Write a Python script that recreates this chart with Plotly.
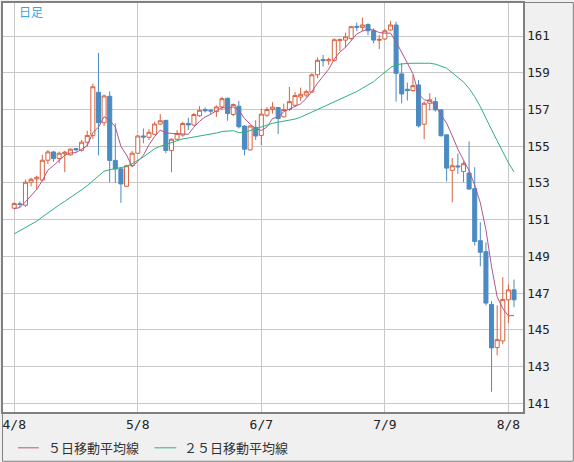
import plotly.graph_objects as go

# daily candles 4/8 .. 8/9 (one entry per trading day)
open_ = [151.63, 151.87, 151.79, 153.04, 153.22, 153.16, 154.24, 154.69, 154.33, 154.59,
         154.53, 154.87, 154.78, 155.22, 155.59, 157.94, 156.28, 157.72, 154.23, 153.77,
         152.82, 153.94, 154.62, 155.56, 155.49, 155.65, 156.21, 156.41, 154.77, 155.38,
         155.61, 156.24, 156.15, 156.66, 157.00, 156.96, 156.89, 157.14, 157.61, 156.73,
         157.18, 156.10, 154.80, 156.03, 155.59, 156.69, 157.00, 157.11, 156.60, 157.00,
         157.23, 157.68, 157.79, 157.95, 158.89, 159.72, 159.65, 159.68, 160.75, 160.78,
         160.87, 161.53, 161.47, 161.63, 161.29, 160.77, 160.84, 161.33, 161.60, 158.94,
         158.10, 158.03, 158.34, 156.20, 157.34, 157.43, 156.98, 155.62, 153.69, 153.93,
         153.63, 153.54, 152.69, 149.86, 149.26, 146.39, 144.04, 144.40, 146.64, 147.18]
high = [151.95, 151.99, 153.18, 153.29, 153.40, 154.53, 154.80, 154.75, 154.71, 154.75,
        154.89, 154.91, 155.34, 155.85, 158.41, 160.08, 157.81, 157.99, 156.24, 153.80,
        153.99, 154.75, 155.61, 155.97, 155.92, 156.33, 156.75, 156.42, 155.43, 155.88,
        156.33, 156.55, 156.82, 157.18, 157.11, 157.03, 157.23, 157.68, 157.65, 157.32,
        157.47, 156.15, 156.15, 156.42, 157.05, 157.14, 157.40, 157.14, 157.32, 158.23,
        157.96, 158.19, 158.08, 158.98, 159.84, 159.97, 159.82, 160.87, 160.87, 161.18,
        161.56, 161.74, 162.01, 161.69, 161.42, 161.05, 161.38, 161.83, 161.78, 159.52,
        158.47, 158.88, 158.61, 157.43, 157.89, 157.67, 157.02, 155.65, 154.36, 154.60,
        154.18, 155.26, 153.86, 150.86, 149.77, 146.57, 146.33, 147.87, 147.47, 147.74]
low = [151.56, 151.65, 151.70, 152.82, 152.64, 153.09, 154.04, 154.15, 154.08, 153.59,
       154.48, 154.71, 154.71, 154.98, 155.40, 154.50, 156.10, 153.04, 153.00, 151.92,
       152.78, 153.86, 154.59, 155.16, 155.34, 155.61, 156.15, 154.62, 153.58, 155.34,
       155.52, 155.88, 156.10, 156.60, 156.84, 156.75, 156.60, 156.96, 156.39, 156.64,
       155.97, 154.50, 154.77, 155.34, 155.07, 156.60, 156.78, 155.67, 156.57, 156.93,
       157.18, 157.47, 157.65, 157.90, 158.71, 159.34, 159.43, 159.61, 160.19, 160.37,
       160.78, 161.27, 161.27, 161.05, 160.60, 160.29, 160.78, 161.29, 157.43, 157.34,
       157.49, 157.98, 156.02, 155.39, 156.95, 156.89, 155.53, 153.09, 151.95, 153.50,
       153.04, 152.63, 149.59, 148.47, 146.33, 141.63, 143.62, 144.22, 145.38, 146.24]
close = [151.88, 151.83, 153.04, 153.20, 153.31, 154.24, 154.69, 154.33, 154.62, 154.68,
         154.84, 154.81, 155.22, 155.59, 158.24, 156.28, 157.74, 154.23, 153.76, 152.95,
         153.94, 154.62, 155.56, 155.50, 155.76, 156.21, 156.39, 154.77, 155.38, 155.70,
         156.24, 156.16, 156.73, 156.96, 156.93, 156.92, 157.14, 157.59, 156.78, 157.27,
         156.06, 154.84, 156.10, 155.56, 156.75, 157.00, 157.13, 156.51, 157.00, 157.43,
         157.76, 157.83, 157.97, 158.89, 159.68, 159.66, 159.73, 160.80, 160.80, 160.96,
         161.51, 161.48, 161.60, 161.29, 160.78, 160.82, 161.29, 161.60, 158.97, 157.85,
         158.03, 158.30, 156.11, 157.34, 157.53, 156.98, 155.57, 153.81, 153.94, 153.88,
         154.05, 152.67, 149.82, 149.23, 146.46, 144.02, 144.47, 146.66, 147.18, 146.64]

# moving averages as drawn on the chart
ma5 = [151.60, 151.66, 151.97, 152.30, 152.65, 153.12, 153.70, 153.95, 154.24, 154.51,
       154.63, 154.66, 154.83, 155.03, 155.74, 156.03, 156.61, 156.42, 156.05, 154.99,
       154.52, 153.90, 154.17, 154.51, 155.08, 155.53, 155.88, 155.73, 155.70, 155.69,
       155.70, 155.65, 156.04, 156.36, 156.60, 156.74, 156.94, 157.11, 157.07, 157.14,
       156.97, 156.51, 156.21, 155.97, 155.86, 156.05, 156.51, 156.59, 156.88, 157.01,
       157.17, 157.31, 157.60, 157.98, 158.43, 158.81, 159.19, 159.75, 160.13, 160.39,
       160.76, 161.11, 161.27, 161.37, 161.33, 161.19, 161.16, 161.16, 160.69, 160.11,
       159.55, 158.95, 157.85, 157.53, 157.46, 157.25, 156.71, 156.25, 155.57, 154.84,
       154.25, 153.67, 152.87, 151.93, 150.45, 148.44, 146.80, 146.17, 145.76, 145.79]
ma25 = [150.23, 150.40, 150.57, 150.75, 150.92, 151.15, 151.38, 151.60, 151.80, 152.00,
        152.20, 152.42, 152.63, 152.86, 153.12, 153.40, 153.64, 153.72, 153.78, 153.84,
        153.90, 154.05, 154.22, 154.42, 154.64, 154.87, 155.00, 155.10, 155.23, 155.32,
        155.40, 155.45, 155.50, 155.55, 155.59, 155.64, 155.72, 155.80, 155.84, 155.85,
        155.74, 155.75, 155.85, 155.96, 156.05, 156.15, 156.25, 156.31, 156.36, 156.42,
        156.48, 156.58, 156.72, 156.85, 156.98, 157.11, 157.25, 157.40, 157.54, 157.69,
        157.83, 157.98, 158.16, 158.34, 158.52, 158.78, 159.02, 159.28, 159.45, 159.50,
        159.51, 159.52, 159.52, 159.52, 159.52, 159.47, 159.38, 159.25, 159.00, 158.75,
        158.50, 158.15, 157.70, 157.16, 156.50, 155.90, 155.30, 154.70, 154.10, 153.60]

tick_pos = [0, 22, 44, 66, 88]
tick_labels = ["4/8", "5/8", "6/7", "7/9", "8/8"]
price_ticks = [141, 143, 145, 147, 149, 151, 153, 155, 157, 159, 161]

UP = "#d8623f"
DOWN = "#4a8bc3"
MA5_COLOR = "#b0568a"
MA25_COLOR = "#2bb27a"
GRID = "#c8c8c8"
FRAME = "#808080"

x = list(range(len(close)))

fig = go.Figure()

fig.add_trace(go.Candlestick(
    x=x, open=open_, high=high, low=low, close=close,
    increasing=dict(line=dict(color=UP, width=1), fillcolor="white"),
    decreasing=dict(line=dict(color=DOWN, width=1), fillcolor=DOWN),
    whiskerwidth=0,
    hoverinfo="skip",
    showlegend=False
))
fig.add_trace(go.Scatter(x=x, y=ma5, mode="lines", name="５日移動平均線",
                         line=dict(color=MA5_COLOR, width=1)))
fig.add_trace(go.Scatter(x=x, y=ma25, mode="lines", name="２５日移動平均線",
                         line=dict(color=MA25_COLOR, width=1)))

# plot area is 522 x 411 px starting at (1, 1)
def px(xp):
    return (xp - 1) / 522

def py(yp):
    return (412 - yp) / 411

shapes = [
    # outer frame of the picture
    dict(type="rect", xref="paper", yref="paper",
         x0=px(0.5), x1=px(573.5), y0=py(461.5), y1=py(0.5),
         line=dict(color=FRAME, width=1), layer="below"),
    # legend line samples
    dict(type="line", xref="paper", yref="paper",
         x0=px(16), x1=px(37), y0=py(448), y1=py(448),
         line=dict(color=MA5_COLOR, width=1)),
    dict(type="line", xref="paper", yref="paper",
         x0=px(153), x1=px(175), y0=py(448), y1=py(448),
         line=dict(color=MA25_COLOR, width=1)),
]

jp_font = dict(family="Noto Sans CJK JP", size=13, color="#333333")
annotations = [
    dict(text="日足", xref="paper", yref="paper", x=px(15), y=py(10),
         xanchor="left", yanchor="middle", showarrow=False,
         font=dict(family="Noto Sans CJK JP", size=12, color="#3aa3e0")),
    dict(text="５日移動平均線", xref="paper", yref="paper", x=px(44), y=py(448),
         xanchor="left", yanchor="middle", showarrow=False, font=jp_font),
    dict(text="２５日移動平均線", xref="paper", yref="paper", x=px(181), y=py(448),
         xanchor="left", yanchor="middle", showarrow=False, font=jp_font),
]

fig.update_layout(
    width=574, height=462,
    margin=dict(l=1, r=51, t=1, b=50),
    paper_bgcolor="#f0f0f0",
    plot_bgcolor="white",
    showlegend=False,
    boxgap=0.2, boxgroupgap=0.1,
    shapes=shapes,
    annotations=annotations,
    xaxis=dict(
        range=[-2.0, 90.6],
        tickvals=tick_pos, ticktext=tick_labels,
        showgrid=True, gridcolor=GRID, gridwidth=1,
        zeroline=False, ticks="",
        showline=True, mirror=True, linecolor=FRAME, linewidth=1.5,
        tickfont=dict(family="DejaVu Sans Mono", size=13, color="#222222"),
        rangeslider=dict(visible=False),
        fixedrange=True
    ),
    yaxis=dict(
        range=[140.53, 162.8],
        side="right",
        tickvals=price_ticks,
        showgrid=True, gridcolor=GRID, gridwidth=1,
        zeroline=False, ticks="",
        showline=True, mirror=True, linecolor=FRAME, linewidth=1.5,
        tickfont=dict(family="DejaVu Sans Mono", size=12.5, color="#222222"),
        fixedrange=True
    ),
)

# the page's default body margin would shift the chart; drop it
fig.write_html("out.html", config={"displayModeBar": False},
               post_script="document.body.style.margin = '0';")
